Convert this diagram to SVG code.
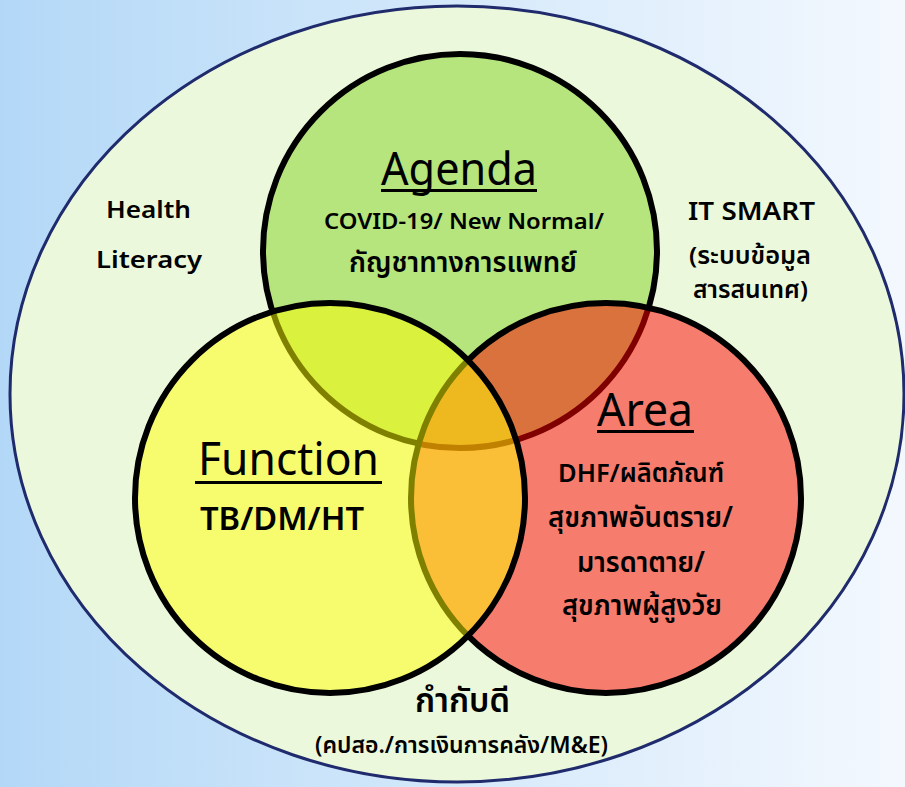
<svg xmlns="http://www.w3.org/2000/svg" width="905" height="787" viewBox="0 0 905 787">
  <defs>
    <linearGradient id="bg" x1="0" y1="0" x2="1" y2="0">
      <stop offset="0" stop-color="#b3d8f7"/>
      <stop offset="0.6" stop-color="#dbecfb"/>
      <stop offset="1" stop-color="#f3f8fe"/>
    </linearGradient>
  </defs>
  <style>
    .ring { stroke: #000; stroke-width: 6; }
    .t { font-family: "Noto Sans", "Noto Sans Thai", "Noto Sans Thai Looped", "DejaVu Sans", sans-serif; fill: #000; }
    .title { font-size: 46px; font-weight: 400; }
    .b { font-weight: 600; }
    .ul { fill: #000; }
  </style>
  <rect x="0" y="0" width="905" height="787" fill="url(#bg)"/>
  <g id="outer">
    <ellipse cx="457" cy="394" rx="447" ry="388" fill="#ecf8dc" stroke="#1f2b6c" stroke-width="3"/>
    <text class="t b" x="106" y="218" font-size="24" textLength="85" lengthAdjust="spacingAndGlyphs">Health</text>
    <text class="t b" x="96" y="268" font-size="24" textLength="106" lengthAdjust="spacingAndGlyphs">Literacy</text>
    <text class="t b" x="688" y="220" font-size="25" textLength="127" lengthAdjust="spacingAndGlyphs">IT SMART</text>
    <text class="t b" x="689" y="264" font-size="24" textLength="122" lengthAdjust="spacingAndGlyphs">(ระบบข้อมูล</text>
    <text class="t b" x="693" y="298" font-size="24" textLength="115" lengthAdjust="spacingAndGlyphs">สารสนเทศ)</text>
    <text class="t b" x="415" y="712" font-size="34" textLength="95" lengthAdjust="spacingAndGlyphs">กำกับดี</text>
    <text class="t b" x="315" y="753" font-size="23" textLength="293" lengthAdjust="spacingAndGlyphs">(คปสอ./การเงินการคลัง/M&amp;E)</text>
  </g>
  <g id="agenda">
    <circle class="ring" cx="460" cy="251" r="197" fill="#b5e57c"/>
  </g>
  <g id="area">
    <circle class="ring" cx="606" cy="498" r="195" fill="#ff0000" fill-opacity="0.5"/>
  </g>
  <g id="function">
    <circle class="ring" cx="330" cy="498" r="195" fill="#ffff00" fill-opacity="0.5"/>
  </g>
  <g id="agenda-text">
    <text class="t title" x="381" y="185" font-size="48" textLength="156" lengthAdjust="spacingAndGlyphs">Agenda</text>
    <rect class="ul" x="381" y="189" width="156" height="3"/>
    <text class="t b" x="324" y="229" font-size="22" textLength="280" lengthAdjust="spacingAndGlyphs">COVID-19/ New Normal/</text>
    <text class="t b" x="349" y="272" font-size="28" textLength="228" lengthAdjust="spacingAndGlyphs">กัญชาทางการแพทย์</text>
  </g>
  <g id="function-text">
    <text class="t title" x="198" y="475" textLength="181" lengthAdjust="spacingAndGlyphs">Function</text>
    <rect class="ul" x="195" y="481" width="187" height="3"/>
    <text class="t b" x="200" y="530" font-size="32" textLength="164" lengthAdjust="spacingAndGlyphs">TB/DM/HT</text>
  </g>
  <g id="area-text">
    <text class="t title" x="597" y="426" textLength="96" lengthAdjust="spacingAndGlyphs">Area</text>
    <rect class="ul" x="597" y="430" width="97" height="3"/>
    <text class="t b" x="558" y="482" font-size="26" textLength="166" lengthAdjust="spacingAndGlyphs">DHF/ผลิตภัณฑ์</text>
    <text class="t b" x="548" y="527" font-size="28" textLength="185" lengthAdjust="spacingAndGlyphs">สุขภาพอันตราย/</text>
    <text class="t b" x="577" y="572" font-size="28" textLength="128" lengthAdjust="spacingAndGlyphs">มารดาตาย/</text>
    <text class="t b" x="562" y="615" font-size="28" textLength="160" lengthAdjust="spacingAndGlyphs">สุขภาพผู้สูงวัย</text>
  </g>
</svg>
